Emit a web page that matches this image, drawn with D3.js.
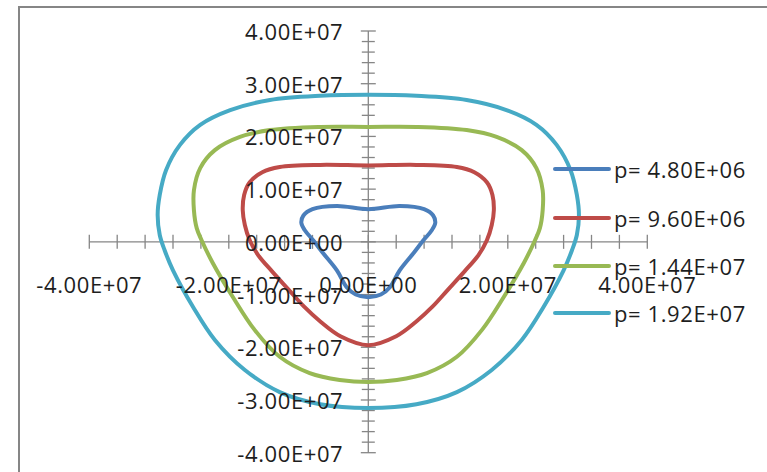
<!DOCTYPE html>
<html>
<head>
<meta charset="utf-8">
<script src="https://cdn.jsdelivr.net/npm/d3@7"></script>
<style>
  html, body { margin: 0; padding: 0; background: #fff; }
  svg { display: block; }
  text { font-family: "Open Sans", "Liberation Sans", sans-serif; fill: #1e1e1e; letter-spacing: 0.6px; }
</style>
</head>
<body>
<svg id="chart" width="767" height="472"></svg>
<script>
// Major tick values and their labels
const xTicks = [-4e7, -2e7, 0, 2e7, 4e7];
const xTickLabels = ["-4.00E+07", "-2.00E+07", "0.00E+00", "2.00E+07", "4.00E+07"];
const yTicks = [4e7, 3e7, 2e7, 1e7, 0, -1e7, -2e7, -3e7, -4e7];
const yTickLabels = ["4.00E+07", "3.00E+07", "2.00E+07", "1.00E+07", "0.00E+00",
                     "-1.00E+07", "-2.00E+07", "-3.00E+07", "-4.00E+07"];
const xMinorStep = 4e6;
const yMinorStep = 2e6;

// Series names and colours
const seriesNames = ["p= 4.80E+06", "p= 9.60E+06", "p= 1.44E+07", "p= 1.92E+07"];
const seriesColors = ["#4a7ebb", "#be4b48", "#98b954", "#46aac5"];

// Closed contour for each pressure level, [x, y]
const p1 = [
  [0, 6.2e6], [-4.5e6, 6.8e6], [-8.0e6, 6.2e6], [-9.3e6, 5.0e6], [-9.6e6, 3.6e6],
  [-9.1e6, 2.2e6], [-7.9e6, 0.3e6], [-6.5e6, -2.1e6], [-4.5e6, -5.4e6], [-3.1e6, -8.6e6],
  [-1.8e6, -10.0e6], [0, -10.5e6], [1.8e6, -10.0e6], [3.1e6, -8.6e6], [4.5e6, -5.4e6],
  [6.5e6, -2.1e6], [7.9e6, 0.3e6], [9.1e6, 2.2e6], [9.6e6, 3.6e6], [9.3e6, 5.0e6],
  [8.0e6, 6.2e6], [4.5e6, 6.8e6]
];
const p2 = [
  [0, 1.45e7], [-6.9e6, 1.46e7], [-1.27e7, 1.42e7], [-1.52e7, 1.32e7], [-1.70e7, 1.13e7],
  [-1.78e7, 0.89e7], [-1.80e7, 0.60e7], [-1.77e7, 0.32e7], [-1.70e7, 0.03e7], [-1.58e7, -0.25e7],
  [-1.38e7, -0.56e7], [-1.14e7, -0.91e7], [-0.92e7, -1.23e7], [-0.68e7, -1.52e7], [-0.40e7, -1.79e7],
  [0, -1.96e7], [0.40e7, -1.79e7], [0.68e7, -1.52e7], [0.92e7, -1.23e7], [1.14e7, -0.91e7],
  [1.38e7, -0.56e7], [1.58e7, -0.25e7], [1.70e7, 0.03e7], [1.77e7, 0.32e7], [1.80e7, 0.60e7],
  [1.78e7, 0.89e7], [1.70e7, 1.13e7], [1.52e7, 1.32e7], [1.27e7, 1.42e7], [6.9e6, 1.46e7]
];
const p3 = [
  [0, 2.18e7], [-0.69e7, 2.18e7], [-1.41e7, 2.12e7], [-1.84e7, 1.99e7], [-2.20e7, 1.74e7],
  [-2.41e7, 1.40e7], [-2.50e7, 0.98e7], [-2.50e7, 0.60e7], [-2.46e7, 0.26e7], [-2.39e7, 0.03e7],
  [-2.23e7, -0.40e7], [-1.94e7, -1.05e7], [-1.63e7, -1.67e7], [-1.27e7, -2.18e7], [-0.84e7, -2.49e7],
  [-0.41e7, -2.62e7], [0, -2.66e7], [0.41e7, -2.62e7], [0.84e7, -2.49e7], [1.27e7, -2.18e7],
  [1.63e7, -1.67e7], [1.94e7, -1.05e7], [2.23e7, -0.40e7], [2.39e7, 0.03e7], [2.46e7, 0.26e7],
  [2.50e7, 0.60e7], [2.50e7, 0.98e7], [2.41e7, 1.40e7], [2.20e7, 1.74e7], [1.84e7, 1.99e7],
  [1.41e7, 2.12e7], [0.69e7, 2.18e7]
];
const p4 = [
  [0, 2.79e7], [-0.69e7, 2.77e7], [-1.41e7, 2.69e7], [-1.98e7, 2.50e7], [-2.41e7, 2.22e7],
  [-2.70e7, 1.84e7], [-2.90e7, 1.36e7], [-2.99e7, 0.89e7], [-3.02e7, 0.51e7], [-2.99e7, 0.13e7],
  [-2.92e7, -0.16e7], [-2.80e7, -0.54e7], [-2.51e7, -1.24e7], [-2.20e7, -1.86e7], [-1.77e7, -2.43e7],
  [-1.27e7, -2.85e7], [-0.69e7, -3.08e7], [0, -3.15e7], [0.69e7, -3.08e7], [1.27e7, -2.85e7],
  [1.77e7, -2.43e7], [2.20e7, -1.86e7], [2.51e7, -1.24e7], [2.80e7, -0.54e7], [2.92e7, -0.16e7],
  [2.99e7, 0.13e7], [3.02e7, 0.51e7], [2.99e7, 0.89e7], [2.90e7, 1.36e7], [2.70e7, 1.84e7],
  [2.41e7, 2.22e7], [1.98e7, 2.50e7], [1.41e7, 2.69e7], [0.69e7, 2.77e7]
];
const seriesData = [p1, p2, p3, p4];

const svg = d3.select("#chart");
const axisColor = "#868686";
const fontSize = 22;

const x = d3.scaleLinear().domain([-4e7, 4e7]).range([89.3, 647.3]);
const y = d3.scaleLinear().domain([-4e7, 4e7]).range([452.7, 31]);

// Plot frame (left and top edges visible)
svg.append("rect")
  .attr("x", 19).attr("y", 7)
  .attr("width", 820).attr("height", 520)
  .attr("fill", "none")
  .attr("stroke", axisColor)
  .attr("stroke-width", 2);

const x0 = x(0), y0 = y(0);
const axes = svg.append("g").attr("stroke", axisColor).attr("stroke-width", 1.3);

// Horizontal axis with cross ticks
axes.append("line").attr("x1", x(-4e7)).attr("x2", x(4e7)).attr("y1", y0).attr("y2", y0);
const xMinor = d3.range(-4e7, 4e7 + 1, xMinorStep);
axes.selectAll(".xt").data(xMinor).join("line")
  .attr("x1", d => x(d)).attr("x2", d => x(d))
  .attr("y1", y0 - 7).attr("y2", y0 + 7);

// Vertical axis with cross ticks
axes.append("line").attr("x1", x0).attr("x2", x0).attr("y1", y(4e7)).attr("y2", y(-4e7));
const yMinor = d3.range(-4e7, 4e7 + 1, yMinorStep);
axes.selectAll(".yt").data(yMinor).join("line")
  .attr("x1", d => x0 - (yTicks.includes(d) ? 7.5 : 6.5))
  .attr("x2", d => x0 + (yTicks.includes(d) ? 7.5 : 6.5))
  .attr("y1", d => y(d)).attr("y2", d => y(d));

// Contours
const line = d3.line()
  .x(d => x(d[0])).y(d => y(d[1]))
  .curve(d3.curveCatmullRomClosed.alpha(0.5));

svg.append("g").selectAll("path").data(seriesData).join("path")
  .attr("d", line)
  .attr("fill", "none")
  .attr("stroke", (d, i) => seriesColors[i])
  .attr("stroke-width", 4)
  .attr("stroke-linejoin", "round");

// Tick labels
svg.append("g").selectAll("text").data(xTicks).join("text")
  .attr("x", d => x(d))
  .attr("y", y0 + 42)
  .attr("text-anchor", "middle")
  .attr("dominant-baseline", "central")
  .attr("font-size", fontSize)
  .text((d, i) => xTickLabels[i]);

svg.append("g").selectAll("text").data(yTicks).join("text")
  .attr("x", x0 - 25)
  .attr("y", d => y(d))
  .attr("text-anchor", "end")
  .attr("dominant-baseline", "central")
  .attr("font-size", fontSize)
  .text((d, i) => yTickLabels[i]);

// Legend
const legendY = [169, 218, 266, 313];
const legend = svg.append("g").selectAll("g").data(seriesNames).join("g")
  .attr("transform", (d, i) => `translate(555,${legendY[i]})`);
legend.append("line")
  .attr("x1", 0).attr("x2", 54).attr("y1", 0).attr("y2", 0)
  .attr("stroke", (d, i) => seriesColors[i])
  .attr("stroke-width", 4)
  .attr("stroke-linecap", "round");
legend.append("text")
  .attr("x", 59).attr("y", 0)
  .attr("dominant-baseline", "central")
  .attr("font-size", fontSize)
  .text(d => d);
</script>
</body>
</html>
